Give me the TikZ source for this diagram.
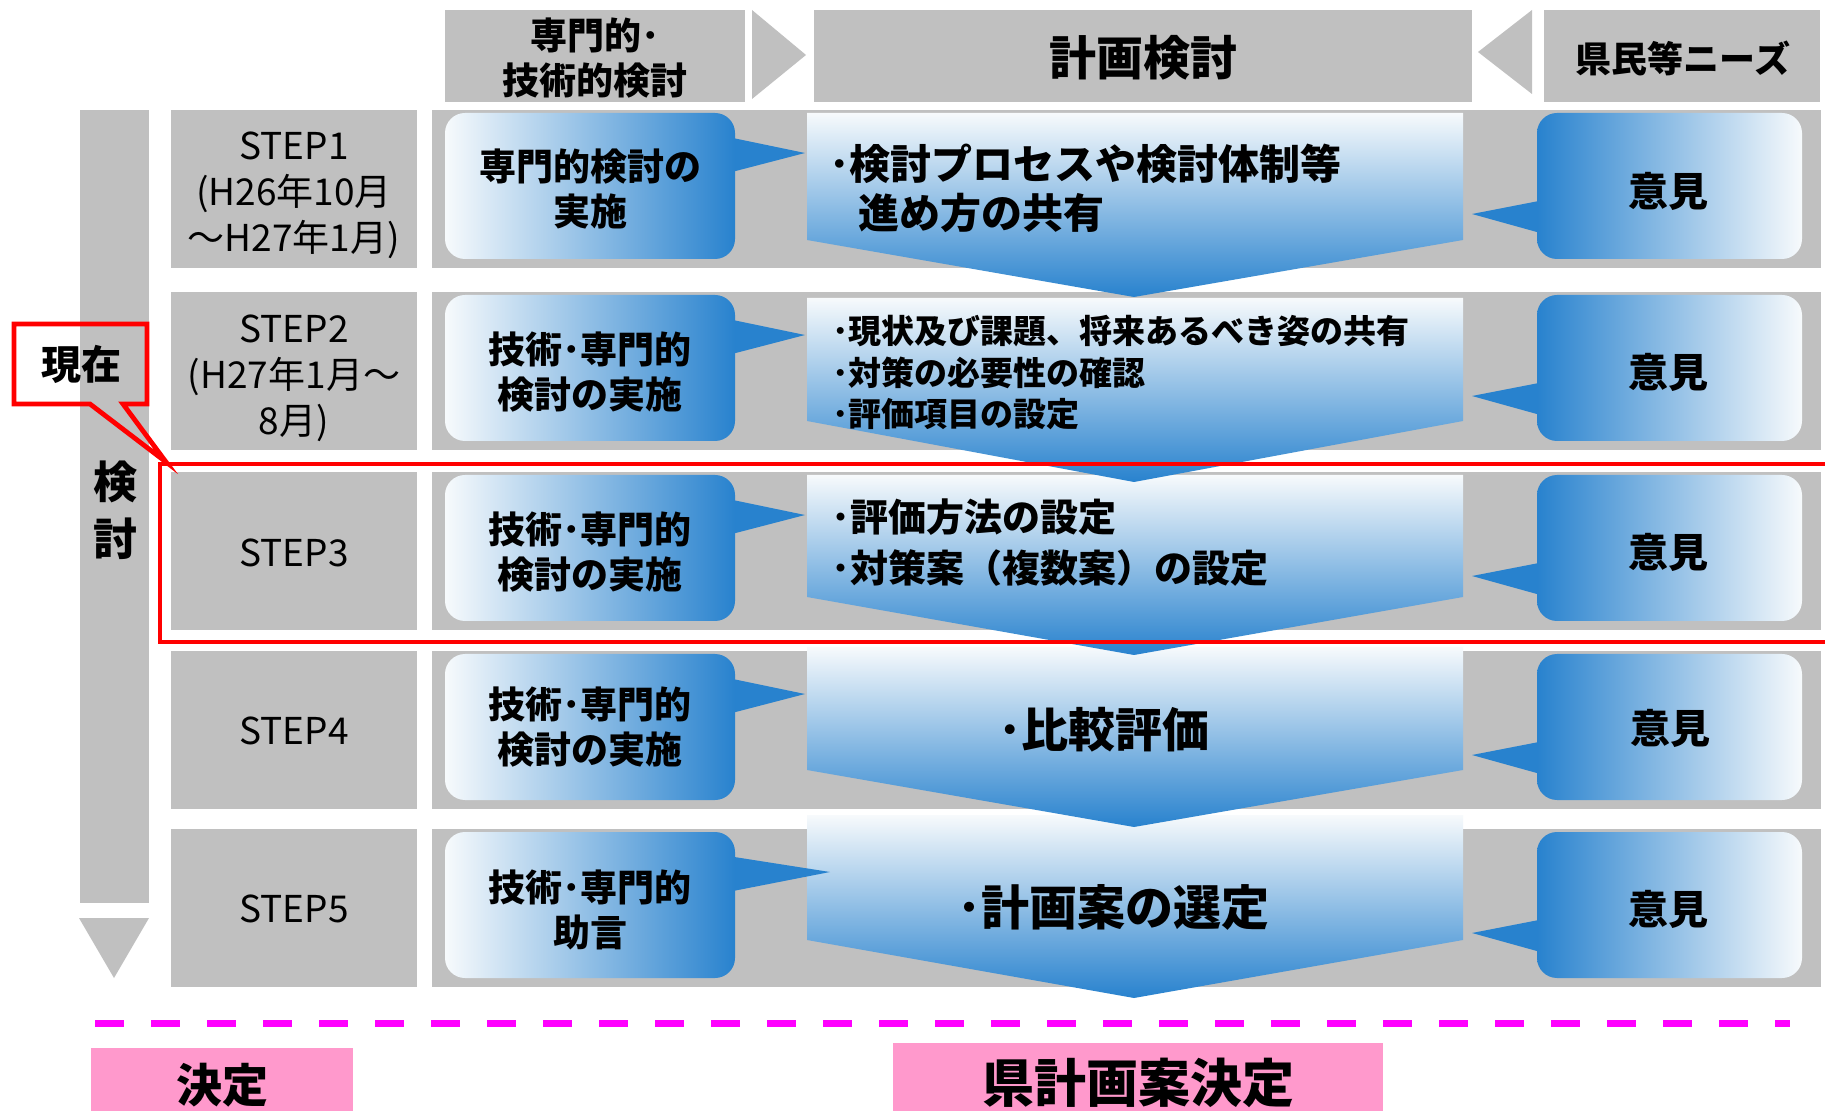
\documentclass[tikz,border=0pt]{standalone}
\usepackage{fontspec}
\setmainfont{Noto Sans CJK JP}
\usepackage{tikz}
\definecolor{bandgray}{RGB}{192,192,192}
\definecolor{boxblue}{RGB}{40,130,206}
\definecolor{paleblue}{RGB}{247,250,252}
\definecolor{pinkbox}{RGB}{255,153,204}
\definecolor{dashmag}{RGB}{255,0,255}
\tikzstyle{band} = [fill=bandgray]
\tikzstyle{steptext} = [align=center, inner sep=0pt, font=\fontsize{18.5}{23}\selectfont]
\tikzstyle{memotext} = [align=center, inner sep=0pt, font=\bfseries\fontsize{18.5}{22.5}\selectfont]
\tikzstyle{plantext} = [align=left, anchor=west, inner sep=0pt]
\tikzstyle{opiniontext} = [inner sep=0pt, font=\bfseries\fontsize{20}{24}\selectfont]
\tikzstyle{leftbubble} = [left color=paleblue, right color=boxblue, rounded corners=10pt]
\tikzstyle{rightbubble} = [left color=boxblue, right color=paleblue, rounded corners=10pt]
\tikzstyle{chevron} = [top color=paleblue, bottom color=boxblue]
\tikzstyle{decidebox} = [fill=pinkbox]
\tikzstyle{nowline} = [draw=red, line width=2.4pt]

\begin{document}
\begin{tikzpicture}[x=0.5pt, y=-0.5pt]
	\useasboundingbox (0,0) rectangle (1825,1111);
	\fill[white] (0,0) rectangle (1825,1111);
	\fill[band] (445,10) rectangle (745,102);
	\fill[band] (752,10) -- (806,55) -- (752,99) -- cycle;
	\fill[band] (814,10) rectangle (1472,102);
	\fill[band] (1532,10) -- (1478,52) -- (1532,94) -- cycle;
	\fill[band] (1544,10) rectangle (1820,102);
	\fill[band] (80,110) rectangle (149,903);
	\fill[band] (79,918) -- (149,918) -- (114,978) -- cycle;
	\foreach \R/\C/\S/\P/\T in {829/815/940/998/830, 651/647/770/827/805, 472/475/597/655/805, 292/298/421/482/805, 110/113/240/297/805}
	{
		\fill[band] (171,\R) rectangle (417,\R+158);
		\fill[band] (432,\R) rectangle (1821,\R+158);
		\shade[chevron] (807,\C) -- (1463,\C) -- (1463,\S) -- (1134,\P) -- (807,\S) -- cycle;
		\fill[boxblue] (728,\R+27) -- (\T,\R+43) -- (728,\R+63) -- cycle;
		\shade[leftbubble] (445,\R+3) rectangle (735,\R+149);
		\fill[boxblue] (1544,\R+90) -- (1472,\R+104) -- (1544,\R+124) -- cycle;
		\shade[rightbubble] (1537,\R+3) rectangle (1802,\R+149);
	}

	\node (HEAD_EXPERT) [align=center, inner sep=0pt, font=\bfseries\fontsize{18.5}{22.5}\selectfont] at (595,58) {専門的･\\技術的検討};
	\node (HEAD_PLAN) [inner sep=0pt, font=\bfseries\fontsize{23.5}{28}\selectfont] at (1143,58) {計画検討};
	\node (HEAD_NEEDS) [inner sep=0pt, font=\bfseries\fontsize{18}{22}\selectfont] at (1683,58) {県民等ニーズ};

	\node (STEP_1) [steptext] at (294,195) {STEP1\\(H26年10月\\～H27年1月)};
	\node (STEP_2) [steptext] at (294,378) {STEP2\\(H27年1月～\\8月)};
	\node (STEP_3) [steptext] at (294,553) {STEP3};
	\node (STEP_4) [steptext] at (294,731) {STEP4};
	\node (STEP_5) [steptext] at (294,909) {STEP5};

	\node (MEMO_1) [memotext] at (590,189) {専門的検討の\\実施};
	\node (MEMO_2) [memotext] at (590,372) {技術･専門的\\検討の実施};
	\node (MEMO_3) [memotext] at (590,552) {技術･専門的\\検討の実施};
	\node (MEMO_4) [memotext] at (590,727) {技術･専門的\\検討の実施};
	\node (MEMO_5) [memotext] at (590,910) {技術･専門的\\助言};

	\node (PLAN_1) [plantext, font=\bfseries\fontsize{20.5}{24.5}\selectfont] at (829,188) {･検討プロセスや検討体制等\\\hspace*{0.7em}進め方の共有};
	\node (PLAN_2) [plantext, font=\bfseries\fontsize{16.5}{20.75}\selectfont] at (832,373) {･現状及び課題、将来あるべき姿の共有\\･対策の必要性の確認\\･評価項目の設定};
	\node (PLAN_3) [plantext, font=\bfseries\fontsize{19}{25.5}\selectfont] at (831,543) {･評価方法の設定\\･対策案（複数案）の設定};
	\node (PLAN_4) [inner sep=0pt, font=\bfseries\fontsize{23.5}{28}\selectfont] at (1104,730) {･比較評価};
	\node (PLAN_5) [inner sep=0pt, font=\bfseries\fontsize{24}{28}\selectfont] at (1113,907) {･計画案の選定};

	\node (OPINION_1) [opiniontext] at (1668,191) {意見};
	\node (OPINION_2) [opiniontext] at (1668,372) {意見};
	\node (OPINION_3) [opiniontext] at (1668,552) {意見};
	\node (OPINION_4) [opiniontext] at (1670,728) {意見};
	\node (OPINION_5) [opiniontext] at (1668,909) {意見};

	\node (REVIEW) [align=center, inner sep=0pt, font=\bfseries\fontsize{22}{28.5}\selectfont] at (115,510) {検\\討};

	\draw[nowline] (1830,464) -- (160,464) -- (160,642) -- (1830,642);
	\draw[nowline, line join=miter] (14,324) -- (147,324) -- (147,404) -- (123,404) -- (166,462) -- (90,404) -- (14,404) -- cycle;
	\node (NOW) [inner sep=0pt, font=\bfseries\fontsize{20}{24}\selectfont] at (81,364) {現在};

	\draw[dashmag, line width=3.5pt, dash pattern=on 14.5pt off 13.5pt] (95,1023) -- (1790,1023);

	\fill[decidebox] (91,1048) rectangle (353,1115);
	\fill[decidebox] (893,1043) rectangle (1383,1115);
	\node (DECIDE) [inner sep=0pt, font=\bfseries\fontsize{23}{27}\selectfont] at (222,1085) {決定};
	\node (DECIDE_PLAN) [inner sep=0pt, font=\bfseries\fontsize{26}{30}\selectfont] at (1138,1083) {県計画案決定};
\end{tikzpicture}
\end{document}
